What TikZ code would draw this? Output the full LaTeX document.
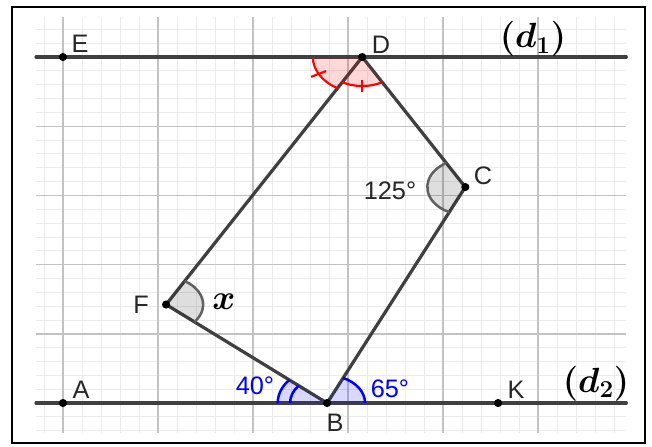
\documentclass[tikz,border=0pt]{standalone}
\usepackage{amsmath,amssymb}
\usepackage[no-math]{fontspec}
\newfontfamily\ggbfont{Liberation Sans}
\usetikzlibrary{calc}

\begin{document}
\begin{tikzpicture}[
    x=2.375cm, y=1.73cm,
    ln/.style={line width=2.3pt, black!75, line cap=round},
    lbl/.style={font=\ggbfont\fontsize{18}{20}\selectfont, text=black!85, inner sep=0pt},
    mlbl/.style={font=\fontsize{23}{26}\selectfont, inner sep=0pt},
    grayfill/.style={fill=black, fill opacity=0.13},
    grayarc/.style={draw=black!62, line width=1.8pt},
    bluefill/.style={fill=blue, fill opacity=0.15},
    bluearc/.style={draw=blue, line width=1.8pt},
    redfill/.style={fill=red, fill opacity=0.15},
    redarc/.style={draw=red, line width=1.5pt}
  ]
  \useasboundingbox (-0.663,-0.621) rectangle (6.2,5.824);
  \draw[line width=1.5pt] (-0.537,-0.578) rectangle (6.126,5.723);

  % grid
  \draw[black!8, line width=0.6pt, step=0.2] (-0.284,-0.434) grid (5.93,5.578);
  \draw[black!24, line width=1pt, step=1] (-0.284,-0.434) grid (5.93,5.578);

  % points
  \coordinate (A) at (0,0);
  \coordinate (B) at (2.78,0);
  \coordinate (K) at (4.58,0);
  \coordinate (E) at (0,5);
  \coordinate (D) at (3.15,5);
  \coordinate (C) at (4.235,3.121);
  \coordinate (F) at (1.085,1.423);
  \coordinate (d1w) at (-0.284,5);
  \coordinate (d1e) at (5.93,5);
  \coordinate (d2w) at (-0.284,0);
  \coordinate (d2e) at (5.93,0);

  % lines
  \draw[ln] (d1w) -- (d1e);
  \draw[ln] (d2w) -- (d2e);
  \draw[ln] (D) -- (C) -- (B) -- (F) -- cycle;

  % angles
  \fill[grayfill] (F) -- ++(-40:0.39) arc[start angle=-40, end angle=60, radius=0.39] -- cycle;
  \draw[grayarc] (F) ++(-40:0.39) arc[start angle=-40, end angle=60, radius=0.39];
  \fill[grayfill] (C) -- ++(120:0.4) arc[start angle=120, end angle=245, radius=0.4] -- cycle;
  \draw[grayarc] (C) ++(120:0.4) arc[start angle=120, end angle=245, radius=0.4];

  \fill[bluefill] (B) -- ++(0:0.4) arc[start angle=0, end angle=65, radius=0.4] -- cycle;
  \draw[bluearc] (B) ++(0:0.4) arc[start angle=0, end angle=65, radius=0.4];
  \fill[bluefill] (B) -- ++(140:0.52) arc[start angle=140, end angle=180, radius=0.52] -- cycle;
  \draw[bluearc] (B) ++(140:0.52) arc[start angle=140, end angle=180, radius=0.52];
  \draw[bluearc] (B) ++(140:0.39) arc[start angle=140, end angle=180, radius=0.39];

  \fill[redfill] (D) -- ++(180:0.52) arc[start angle=180, end angle=240, radius=0.52] -- cycle;
  \draw[redarc] (D) ++(180:0.52) arc[start angle=180, end angle=240, radius=0.52];
  \draw[redarc] ($(D)+(208:0.43)$) -- ($(D)+(208:0.61)$);
  \fill[redfill] (D) -- ++(240:0.42) arc[start angle=240, end angle=300, radius=0.42] -- cycle;
  \draw[redarc] (D) ++(240:0.42) arc[start angle=240, end angle=300, radius=0.42];
  \draw[redarc] ($(D)+(270:0.33)$) -- ($(D)+(270:0.51)$);

  % dots
  \foreach \p in {A,B,K,E,D,C,F}
    \fill (\p) circle (2.9pt);

  % labels
  \node[lbl] (lE) at (0.179,5.188) {E};
  \node[lbl] (lD) at (3.347,5.173) {D};
  \node[lbl] (lC) at (4.421,3.28) {C};
  \node[lbl] (lF) at (0.821,1.416) {F};
  \node[lbl] (lA) at (0.189,0.188) {A};
  \node[lbl] (lB) at (2.863,-0.289) {B};
  \node[lbl] (lK) at (4.768,0.188) {K};
  \node[lbl] (l125) at (3.442,3.064) {125°};
  \node[lbl, text=blue] (l40) at (2.021,0.246) {40°};
  \node[lbl, text=blue] (l65) at (3.442,0.202) {65°};
  \node[mlbl] (lx) at (1.695,1.46) {$\boldsymbol{x}$};
  \node[mlbl] (ld1) at (4.947,5.26) {$\boldsymbol{(d_1)}$};
  \node[mlbl] (ld2) at (5.611,0.275) {$\boldsymbol{(d_2)}$};
\end{tikzpicture}
\end{document}
